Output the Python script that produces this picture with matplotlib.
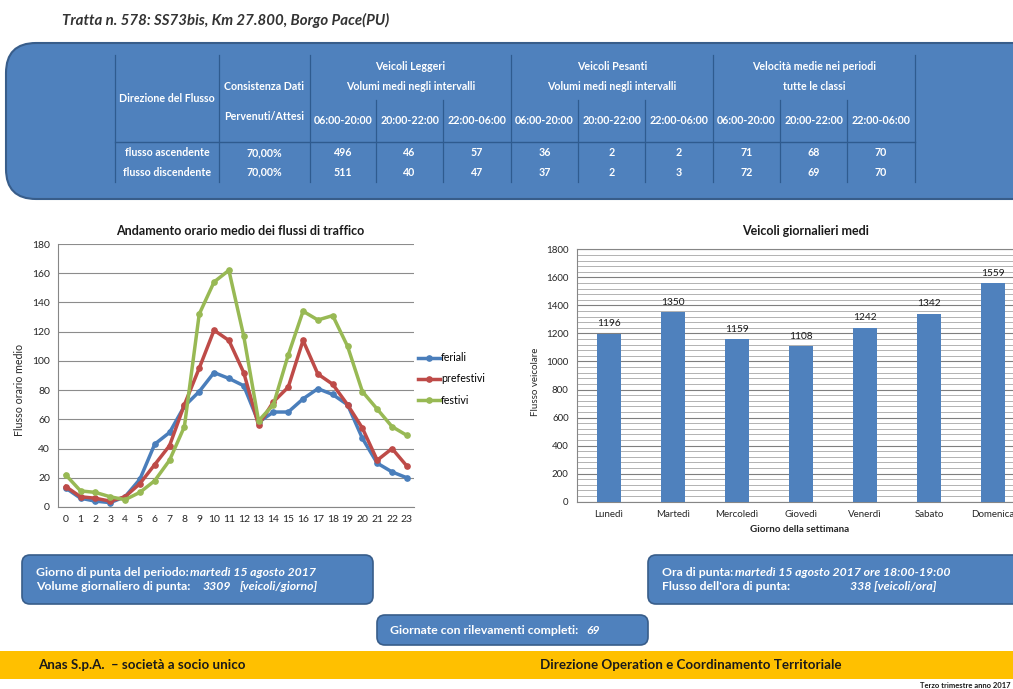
import matplotlib.pyplot as plt
from matplotlib.patches import FancyBboxPatch, Rectangle
from matplotlib.ticker import MultipleLocator

plt.rcParams['font.family'] = ['Lato', 'DejaVu Sans']

# traffico orario medio (veicoli/ora)
ore = list(range(24))
feriali = [13, 6, 4, 3, 7, 19, 43, 51, 69, 79, 92, 88, 83, 58, 65, 65, 74, 81, 77, 70, 47, 30, 24, 20]
prefestivi = [14, 7, 6, 4, 7, 16, 29, 42, 70, 95, 121, 114, 92, 56, 72, 82, 114, 91, 84, 70, 54, 32, 40, 28]
festivi = [22, 11, 10, 7, 5, 10, 18, 32, 55, 132, 154, 162, 117, 59, 70, 104, 134, 128, 131, 110, 79, 67, 55, 49]

# veicoli giornalieri medi
giorni = ['Lunedì', 'Martedì', 'Mercoledì', 'Giovedì', 'Venerdì', 'Sabato', 'Domenica']
veicoli_giorno = [1196, 1350, 1159, 1108, 1242, 1342, 1559]

# tabella riepilogativa
intervalli = ['06:00-20:00', '20:00-22:00', '22:00-06:00']
direzioni = ['flusso ascendente', 'flusso discendente']
consistenza = ['70,00%', '70,00%']
leggeri = [[496, 46, 57], [511, 40, 47]]
pesanti = [[36, 2, 2], [37, 2, 3]]
velocita = [[71, 68, 70], [72, 69, 70]]

BLU = '#4f81bd'
BORDO = '#385d8a'
LINEA = '#2f5b8f'
TESTO = '#262626'

fig = plt.figure(figsize=(10.13, 6.89), dpi=100)

# sfondo in coordinate pixel
bg = fig.add_axes([0, 0, 1, 1])
bg.set_xlim(0, 1013)
bg.set_ylim(689, 0)
bg.axis('off')

bg.text(62, 20, 'Tratta n. 578: SS73bis, Km 27.800, Borgo Pace(PU)', fontsize=10.8,
        style='italic', fontweight='bold', color='#333333', va='center')

# riquadro della tabella
bg.add_patch(FancyBboxPatch((6, 43), 1040, 156, boxstyle='round,pad=0,rounding_size=30',
                            fc=BLU, ec=BORDO, lw=1.5))

bordi = [310, 376, 443, 511, 578, 645, 713, 780, 847, 915]
centri = [(bordi[i] + bordi[i + 1]) / 2 for i in range(9)]
for x in [115, 219, 310, 511, 713, 915]:
    bg.plot([x, x], [55, 182], color=LINEA, lw=0.9)
for x in [376, 443, 578, 645, 780, 847]:
    bg.plot([x, x], [100, 182], color=LINEA, lw=0.9)
bg.plot([115, 915], [142, 142], color=LINEA, lw=1.0)

kw = dict(color='white', fontsize=7.7, fontweight='bold', ha='center', va='center')
bg.text(167, 98, 'Direzione del Flusso', **kw)
bg.text(264, 86, 'Consistenza Dati', **kw)
bg.text(264, 116, 'Pervenuti/Attesi', **kw)
gruppi = [('Veicoli Leggeri', 'Volumi medi negli intervalli'),
          ('Veicoli Pesanti', 'Volumi medi negli intervalli'),
          ('Velocità medie nei periodi', 'tutte le classi')]
for g, (t1, t2) in enumerate(gruppi):
    cx = (bordi[3 * g] + bordi[3 * g + 3]) / 2
    bg.text(cx, 67, t1, **kw)
    bg.text(cx, 86, t2, **kw)
    for k, lab in enumerate(intervalli):
        bg.text(centri[3 * g + k], 121, lab, **kw)

for r, y in enumerate([153, 172]):
    bg.text(167, y, direzioni[r], **kw)
    bg.text(264, y, consistenza[r], **kw)
    valori = leggeri[r] + pesanti[r] + velocita[r]
    for c, v in enumerate(valori):
        bg.text(centri[c], y, str(v), **kw)

# grafico andamento orario
ax1 = fig.add_axes([58.3 / 1013, (689 - 507) / 689, 356 / 1013, 263 / 689])
ax1.plot(ore, feriali, color='#4a7ebb', lw=2.5, marker='o', ms=3.8, label='feriali')
ax1.plot(ore, prefestivi, color='#be4b48', lw=2.5, marker='o', ms=3.8, label='prefestivi')
ax1.plot(ore, festivi, color='#98b954', lw=2.5, marker='o', ms=3.8, label='festivi')
ax1.set_xlim(-0.5, 23.5)
ax1.set_ylim(0, 180)
ax1.set_xticks(ore)
ax1.yaxis.set_major_locator(MultipleLocator(20))
ax1.yaxis.grid(True, color='#8c8c8c', lw=0.8)
ax1.set_axisbelow(True)
for s in ['top', 'right']:
    ax1.spines[s].set_visible(False)
for s in ['left', 'bottom']:
    ax1.spines[s].set_color('#868686')
ax1.tick_params(length=0, labelsize=7.5, colors=TESTO, pad=6)
ax1.legend(loc='center left', bbox_to_anchor=(1.0, 0.487), frameon=False, fontsize=7.7,
           handlelength=2.1, handletextpad=0.1, labelspacing=0.95, borderpad=0, borderaxespad=0.3)
bg.text(240, 231, 'Andamento orario medio dei flussi di traffico', fontsize=9,
        fontweight='bold', ha='center', va='center', color='#1a1a1a')
bg.text(20, 390, 'Flusso orario medio', fontsize=7.7, rotation=90, ha='center', va='center',
        color=TESTO)

# grafico veicoli giornalieri
ax2 = fig.add_axes([577 / 1013, (689 - 501.7) / 689, 448 / 1013, 252.4 / 689])
barre = ax2.bar(range(len(giorni)), veicoli_giorno, width=0.39, color=BLU, zorder=3)
ax2.bar_label(barre, fontsize=7.3, padding=4, color='#1a1a1a')
ax2.set_xlim(-0.5, 6.5)
ax2.set_ylim(0, 1800)
ax2.set_xticks(range(len(giorni)))
ax2.set_xticklabels(giorni)
ax2.yaxis.set_major_locator(MultipleLocator(200))
ax2.yaxis.set_minor_locator(MultipleLocator(40))
ax2.yaxis.grid(True, which='major', color='#7f7f7f', lw=0.8)
ax2.yaxis.grid(True, which='minor', color='#a6a6a6', lw=0.6)
ax2.set_axisbelow(True)
for s in ax2.spines.values():
    s.set_color('#868686')
ax2.tick_params(which='both', length=0, labelsize=7, colors=TESTO, pad=6)
bg.text(805, 231, 'Veicoli giornalieri medi', fontsize=9, fontweight='bold',
        ha='center', va='center', color='#1a1a1a')
bg.text(535, 382, 'Flusso veicolare', fontsize=7, rotation=90, ha='center', va='center',
        color=TESTO)
bg.text(800, 530, 'Giorno della settimana', fontsize=7.1, fontweight='bold',
        ha='center', va='center', color=TESTO)

# riquadri inferiori
for (x, y, w, h) in [(22, 555, 351, 49), (648, 555, 400, 49), (377, 615, 271, 30)]:
    bg.add_patch(FancyBboxPatch((x, y), w, h, boxstyle='round,pad=0,rounding_size=8',
                                fc=BLU, ec=BORDO, lw=1.2))

tw = dict(color='white', fontsize=8.8, fontweight='bold', va='center')
ti = dict(tw, style='italic')


def segue(prima, testo, gap=1):
    # testo corsivo subito dopo un'etichetta normale
    return bg.annotate(testo, xy=(1, 0.5), xycoords=prima, xytext=(gap, 0),
                       textcoords='offset points', ha='left', **ti)


t = bg.text(36, 572, 'Giorno di punta del periodo:', **tw)
segue(t, 'martedì 15 agosto 2017')
bg.text(36, 587, 'Volume giornaliero di punta:', **tw)
bg.text(203, 587, '3309', **ti)
bg.text(240, 587, '[veicoli/giorno]', **ti)
t = bg.text(662, 572, 'Ora di punta:', **tw)
segue(t, 'martedì 15 agosto 2017 ore 18:00-19:00')
bg.text(662, 587, "Flusso dell'ora di punta:", **tw)
bg.text(850, 587, '338 [veicoli/ora]', **ti)
t = bg.text(390, 631, 'Giornate con rilevamenti completi:', **tw)
segue(t, '69', gap=6)

# banda inferiore
bg.add_patch(Rectangle((0, 651), 1013, 28, fc='#ffc000', ec='none'))
bg.text(38, 665, 'Anas S.p.A.  – società a socio unico', fontsize=9.6, fontweight='bold',
        color='#1a1a1a', va='center')
bg.text(540, 665, 'Direzione Operation e Coordinamento Territoriale', fontsize=9.6,
        fontweight='bold', color='#1a1a1a', va='center')
bg.text(1010, 685, 'Terzo trimestre anno 2017', fontsize=5.5, fontweight='bold',
        color='#1a1a1a', ha='right', va='center')

fig.savefig('out.png', dpi=100)
